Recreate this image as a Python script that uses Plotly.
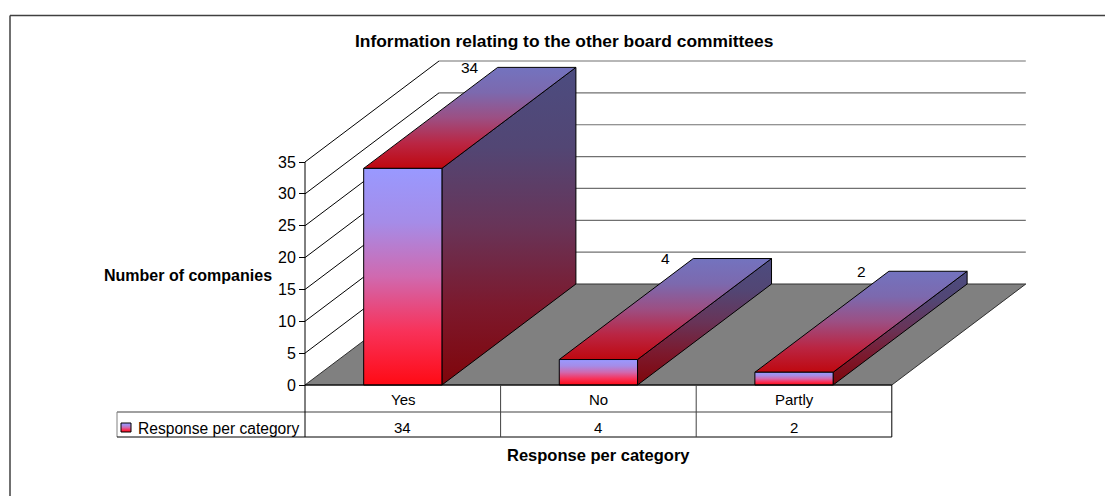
import plotly.graph_objects as go

# Chart data
categories = ["Yes", "No", "Partly"]
responses = [34, 4, 2]
y_ticks = [0, 5, 10, 15, 20, 25, 30, 35]
series_name = "Response per category"
chart_title = "Information relating to the other board committees"
y_title = "Number of companies"
x_title = "Response per category"

# Page and projection layout
W, H = 1105, 496
X0, Y0 = 305.0, 385.0      # pixel position of the axes origin
SLOT_PX = 195.6            # pixels per category slot
UNIT_PX = 6.371            # pixels per response unit
DX = 134.0 / SLOT_PX       # depth vector, in axis units
DY = 101.0 / UNIT_PX
BAR_OFFSET, BAR_WIDTH = 0.30, 0.40

FONT = "Liberation Sans, Arial, sans-serif"

# Bar fill, foot to head; side and top faces are darker versions of it
RAMP = [
    (0.00, (255, 10, 20)),
    (0.25, (248, 50, 90)),
    (0.50, (208, 105, 175)),
    (0.75, (165, 140, 232)),
    (1.00, (153, 153, 255)),
]


def px(x):
    return x / W


def py(y):
    return 1 - y / H


def shade(scale):
    return [[pos, "rgb(%d,%d,%d)" % tuple(round(v * scale) for v in c)] for pos, c in RAMP]


fig = go.Figure()


def face(xs, ys, fill=None, gradient=None, line="#000000", width=1):
    kw = dict(fillgradient=dict(type="vertical", colorscale=gradient)) if gradient else dict(fillcolor=fill)
    fig.add_trace(go.Scatter(x=xs + xs[:1], y=ys + ys[:1], mode="lines", fill="toself",
                             line=dict(color=line, width=width), showlegend=False,
                             hoverinfo="skip", **kw))


def stroke(xs, ys, color="#000000", width=1):
    fig.add_trace(go.Scatter(x=xs, y=ys, mode="lines", line=dict(color=color, width=width),
                             showlegend=False, hoverinfo="skip"))


n = len(categories)

# Floor
face([0, n, n + DX, DX], [0, 0, DY, DY], fill="#808080", line="#303030")

# Walls: diagonal on the side wall, horizontal rule on the back wall
for v in y_ticks[1:]:
    stroke([0, DX], [v, v + DY])
    stroke([DX, n + DX], [v + DY, v + DY], color="#707070", width=1.2)

# Value axis line
stroke([0, 0], [0, max(y_ticks)])

# Bars
for i, value in enumerate(responses):
    a, b = i + BAR_OFFSET, i + BAR_OFFSET + BAR_WIDTH
    face([b, b + DX, b + DX, b], [0, DY, value + DY, value], gradient=shade(0.5))
    face([a, b, b + DX, a + DX], [value, value, value + DY, value + DY], gradient=shade(0.75))
    face([a, b, b, a], [0, 0, value, value], gradient=shade(1.0))

# Legend key in the data table
kx = [(k - X0) / SLOT_PX for k in (121, 131, 131, 121)]
ky = [(Y0 - k) / UNIT_PX for k in (432, 432, 423, 423)]
face(kx, ky, gradient=shade(1.0))

annotations = []


def text(s, x, y, size=15, bold=False, xanchor="center", ref="paper"):
    annotations.append(dict(text="<b>%s</b>" % s if bold else s, x=x, y=y, xref=ref, yref=ref,
                            xanchor=xanchor, yanchor="middle", showarrow=False,
                            font=dict(family=FONT, size=size, color="#000000")))


text(chart_title, px(563.5), py(41), size=17.4, bold=True)
text(y_title, px(188), py(275), size=16, bold=True)
text(x_title, px(598.6), py(455), size=16.5, bold=True)
text(series_name, px(136), py(428), size=15.6, xanchor="left")

# Value labels sit over the back edge of each bar
for i, value in enumerate(responses):
    annotations.append(dict(text=str(value), x=i + 0.5 + DX / 2, y=value + DY, xref="x", yref="y",
                            showarrow=False, xanchor="center", yanchor="middle",
                            font=dict(family=FONT, size=15.5, color="#000000")))

# Data table cells
for i, (cat, value) in enumerate(zip(categories, responses)):
    cx = px(X0 + (i + 0.5) * SLOT_PX)
    text(cat, cx, py(399), size=15)
    text(str(value), cx, py(427), size=15)

shapes = []


def rule(x0, y0, x1, y1, color="#000000", width=1):
    shapes.append(dict(type="line", xref="paper", yref="paper", x0=px(x0), y0=py(y0), x1=px(x1), y1=py(y1),
                       line=dict(color=color, width=width)))


right = X0 + n * SLOT_PX
rule(117, 412, right, 412, color="#808080", width=1.5)
rule(117, 412, 117, 437, color="#808080")
rule(117, 437, right, 437)
rule(X0, Y0, right, Y0)
rule(X0, Y0, X0, 437)
for i in range(1, n):
    rule(X0 + i * SLOT_PX, Y0, X0 + i * SLOT_PX, 437, color="#404040")
rule(right, Y0, right, 437)

# Frame of the chart area
rule(10, 15.5, W, 15.5, color="#404040", width=1.5)
rule(10, 15.5, 10, H, color="#404040", width=1.5)

fig.update_layout(
    width=W, height=H, margin=dict(l=0, r=0, t=0, b=0, autoexpand=False),
    paper_bgcolor="#ffffff", plot_bgcolor="#ffffff", hovermode=False, showlegend=False,
    annotations=annotations, shapes=shapes,
    xaxis=dict(range=[-X0 / SLOT_PX, (W - X0) / SLOT_PX], visible=False, domain=[0, 1]),
    yaxis=dict(range=[-(H - Y0) / UNIT_PX, Y0 / UNIT_PX], domain=[0, 1], anchor="free", position=X0 / W,
               tickmode="array", tickvals=y_ticks, ticktext=[str(v) for v in y_ticks],
               ticks="outside", ticklen=6, tickcolor="#000000", tickwidth=1,
               showgrid=False, zeroline=False, showline=False,
               tickfont=dict(family=FONT, size=16, color="#000000")),
)

fig.write_html("out.html", config=dict(displayModeBar=False))
